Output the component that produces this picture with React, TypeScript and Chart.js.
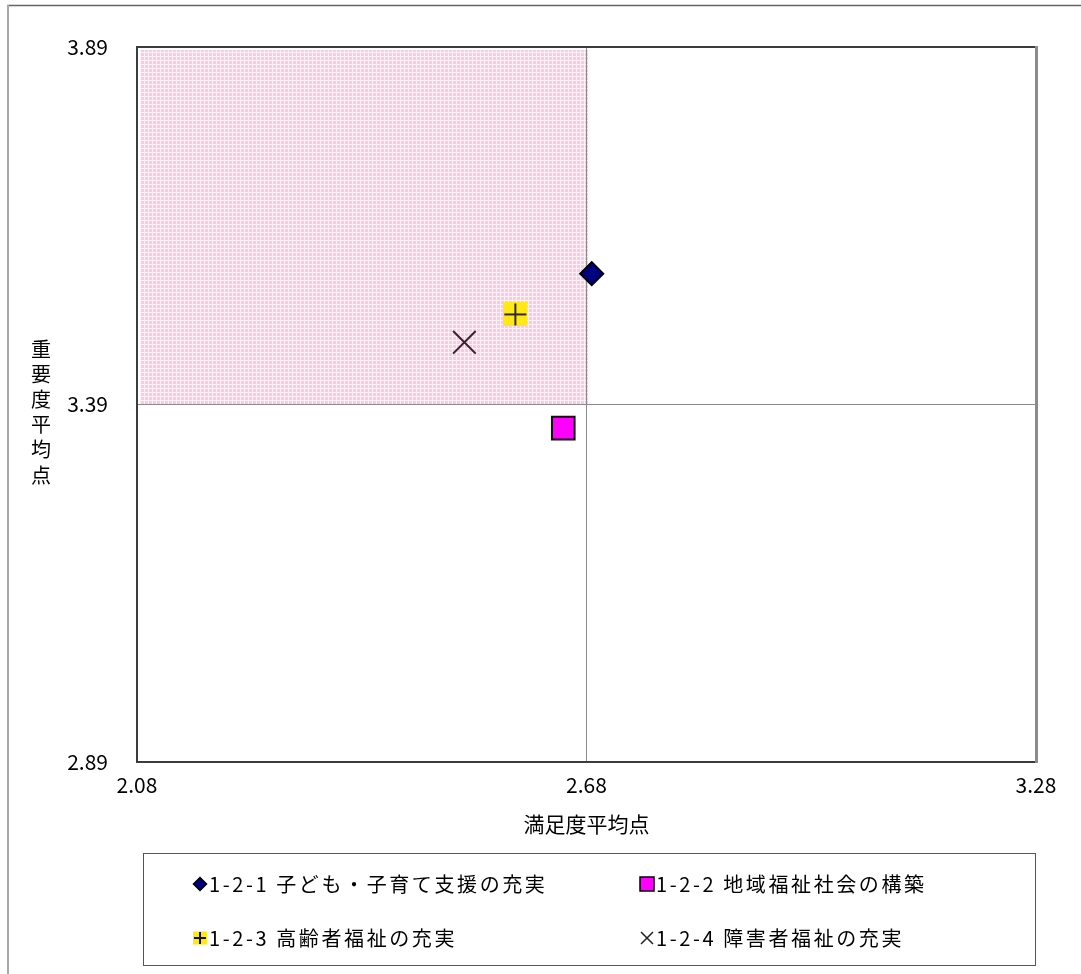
import React, { useEffect, useRef } from 'react';
import { Chart, registerables } from 'chart.js';

Chart.register(...registerables);

// ---- data ----
const seriesLabels = [
  '1-2-1 子ども・子育て支援の充実',
  '1-2-2 地域福祉社会の構築',
  '1-2-3 高齢者福祉の充実',
  '1-2-4 障害者福祉の充実',
];
const satisfaction = [2.687, 2.649, 2.585, 2.517];
const importance = [3.573, 3.357, 3.516, 3.477];
const xTicks = [2.08, 2.68, 3.28];
const yTicks = [2.89, 3.39, 3.89];
const xMid = 2.68;
const yMid = 3.39;
const xTitle = '満足度平均点';
const yTitle = '重要度平均点';

const FONT = '"Noto Sans CJK JP", "Noto Sans", sans-serif';

function makePlusImage(size: number, line: number) {
  const c = document.createElement('canvas');
  c.width = size;
  c.height = size;
  const g = c.getContext('2d')!;
  g.fillStyle = '#ffe816';
  g.fillRect(0, 0, size, size);
  g.strokeStyle = '#2e2a2a';
  g.lineWidth = line;
  const m = size / 2;
  g.beginPath();
  g.moveTo(1, m);
  g.lineTo(size - 1, m);
  g.moveTo(m, 1);
  g.lineTo(m, size - 1);
  g.stroke();
  return c;
}

function makePinkPattern(ctx: CanvasRenderingContext2D) {
  const c = document.createElement('canvas');
  c.width = 4;
  c.height = 4;
  const g = c.getContext('2d')!;
  g.fillStyle = '#fcc9e3';
  g.fillRect(0, 0, 4, 4);
  g.fillStyle = '#fff0f7';
  g.fillRect(0, 0, 4, 1);
  g.fillRect(0, 0, 1, 4);
  return ctx.createPattern(c, 'repeat');
}

const quadrantPlugin = {
  id: 'quadrant',
  beforeDraw(chart: any) {
    const { ctx, scales } = chart;
    const x = scales.x;
    const y = scales.y;
    const pat = makePinkPattern(ctx);
    ctx.save();
    ctx.fillStyle = pat || '#fad6e8';
    const x0 = x.getPixelForValue(xTicks[0]) + 3;
    const x1 = x.getPixelForValue(xMid) + 2;
    const y0 = y.getPixelForValue(yTicks[yTicks.length - 1]) + 3;
    const y1 = y.getPixelForValue(yMid);
    ctx.fillRect(x0, y0, x1 - x0, y1 - y0);

    // outer chart frame
    ctx.strokeStyle = '#666';
    ctx.lineWidth = 1.5;
    ctx.beginPath();
    ctx.moveTo(7, 5.5);
    ctx.lineTo(chart.width, 5.5);
    ctx.stroke();
    ctx.strokeStyle = '#a8a8a8';
    ctx.lineWidth = 2;
    ctx.beginPath();
    ctx.moveTo(8, 5);
    ctx.lineTo(8, chart.height);
    ctx.stroke();
    ctx.restore();
  },
  beforeDatasetsDraw(chart: any) {
    const { ctx, chartArea: a } = chart;
    ctx.save();
    ctx.lineWidth = 2;
    ctx.strokeStyle = '#3c3c3c';
    ctx.beginPath();
    ctx.moveTo(a.right, a.top);
    ctx.lineTo(a.left, a.top);
    ctx.lineTo(a.left, a.bottom);
    ctx.lineTo(a.right, a.bottom);
    ctx.stroke();
    ctx.strokeStyle = '#8c8c8c';
    ctx.lineWidth = 3;
    ctx.beginPath();
    ctx.moveTo(a.right + 0.5, a.top - 1);
    ctx.lineTo(a.right + 0.5, a.bottom + 1);
    ctx.stroke();
    ctx.restore();
  },
  afterDraw(chart: any) {
    const { ctx } = chart;
    ctx.save();
    // y-axis title, stacked vertically
    ctx.fillStyle = '#000';
    ctx.font = `20px ${FONT}`;
    ctx.textAlign = 'center';
    ctx.textBaseline = 'middle';
    Array.from(yTitle).forEach((ch, i) => {
      ctx.fillText(ch, 41, 349 + i * 25.2);
    });

    // legend box
    ctx.strokeStyle = '#555';
    ctx.lineWidth = 1;
    ctx.strokeRect(143.5, 853.5, 892, 112);

    const cols = [200, 647];
    const rows = [884, 938];
    ctx.font = `20px ${FONT}`;
    (ctx as any).letterSpacing = '2.6px';
    ctx.textAlign = 'left';
    ctx.textBaseline = 'middle';
    seriesLabels.forEach((lab, i) => {
      const cx = cols[i % 2];
      const cy = rows[Math.floor(i / 2)];
      ctx.save();
      if (i === 0) {
        ctx.fillStyle = '#000080';
        ctx.strokeStyle = '#000';
        ctx.lineWidth = 1.5;
        ctx.beginPath();
        ctx.moveTo(cx - 6.5, cy);
        ctx.lineTo(cx, cy - 6.5);
        ctx.lineTo(cx + 6.5, cy);
        ctx.lineTo(cx, cy + 6.5);
        ctx.closePath();
        ctx.fill();
        ctx.stroke();
      } else if (i === 1) {
        ctx.fillStyle = '#ff00ff';
        ctx.strokeStyle = '#000';
        ctx.lineWidth = 1.5;
        ctx.fillRect(cx - 7, cy - 7, 14, 14);
        ctx.strokeRect(cx - 7, cy - 7, 14, 14);
      } else if (i === 2) {
        ctx.fillStyle = '#ffe816';
        ctx.fillRect(cx - 7, cy - 6.5, 14, 13);
        ctx.strokeStyle = '#111';
        ctx.lineWidth = 2;
        ctx.beginPath();
        ctx.moveTo(cx - 6, cy);
        ctx.lineTo(cx + 6, cy);
        ctx.moveTo(cx, cy - 6);
        ctx.lineTo(cx, cy + 6);
        ctx.stroke();
      } else {
        ctx.strokeStyle = '#222';
        ctx.lineWidth = 1.5;
        ctx.beginPath();
        ctx.moveTo(cx - 6, cy - 6);
        ctx.lineTo(cx + 6, cy + 6);
        ctx.moveTo(cx + 6, cy - 6);
        ctx.lineTo(cx - 6, cy + 6);
        ctx.stroke();
      }
      ctx.restore();
      ctx.fillStyle = '#000';
      ctx.fillText(lab, cx + 9, cy);
    });
    (ctx as any).letterSpacing = '0px';
    ctx.restore();
  },
};

export default function App() {
  const ref = useRef<HTMLCanvasElement | null>(null);

  useEffect(() => {
    document.body.style.margin = '0';
    document.body.style.overflow = 'hidden';
    const canvas = ref.current!;
    const plusImg = makePlusImage(24, 2);

    const chart = new Chart(canvas, {
      type: 'scatter',
      data: {
        datasets: [
          {
            label: seriesLabels[0],
            data: [{ x: satisfaction[0], y: importance[0] }],
            pointStyle: 'rectRot',
            pointRadius: 11.5,
            backgroundColor: '#000080',
            borderColor: '#000',
            borderWidth: 2,
          },
          {
            label: seriesLabels[1],
            data: [{ x: satisfaction[1], y: importance[1] }],
            pointStyle: 'rect',
            pointRadius: 16,
            backgroundColor: '#ff00ff',
            borderColor: '#111',
            borderWidth: 2,
          },
          {
            label: seriesLabels[2],
            data: [{ x: satisfaction[2], y: importance[2] }],
            pointStyle: plusImg as any,
            pointRadius: 12,
            backgroundColor: '#ffe816',
            borderColor: '#2e2a2a',
          },
          {
            label: seriesLabels[3],
            data: [{ x: satisfaction[3], y: importance[3] }],
            pointStyle: 'crossRot',
            pointRadius: 16,
            backgroundColor: '#3a2030',
            borderColor: '#3a2030',
            borderWidth: 2,
          },
        ],
      },
      options: {
        responsive: false,
        animation: false,
        events: [],
        layout: { padding: { top: 47, right: 45, bottom: 136, left: 0 } },
        plugins: {
          legend: { display: false },
          tooltip: { enabled: false },
        },
        scales: {
          x: {
            type: 'linear',
            min: xTicks[0],
            max: xTicks[xTicks.length - 1],
            afterBuildTicks: (s: any) => {
              s.ticks = xTicks.map((v) => ({ value: v }));
            },
            afterFit: (s: any) => {
              s.height = 76;
            },
            ticks: {
              callback: (v: any) => Number(v).toFixed(2),
              font: { family: FONT, size: 21 },
              color: '#000',
              padding: 10,
              maxRotation: 0,
              autoSkip: false,
            },
            grid: {
              drawTicks: false,
              color: (c: any) => (c.tick && Math.abs(c.tick.value - xMid) < 1e-6 ? '#8a8a8a' : 'rgba(0,0,0,0)'),
              lineWidth: 1,
            },
            border: { display: false },
            title: {
              display: true,
              text: xTitle,
              font: { family: FONT, size: 21 },
              color: '#000',
              padding: { top: 0, bottom: 1 },
            },
          },
          y: {
            type: 'linear',
            min: yTicks[0],
            max: yTicks[yTicks.length - 1],
            afterBuildTicks: (s: any) => {
              s.ticks = yTicks.map((v) => ({ value: v }));
            },
            afterFit: (s: any) => {
              s.width = 137;
            },
            ticks: {
              callback: (v: any) => Number(v).toFixed(2),
              font: { family: FONT, size: 21 },
              color: '#000',
              padding: 29,
              autoSkip: false,
            },
            grid: {
              drawTicks: false,
              color: (c: any) => (c.tick && Math.abs(c.tick.value - yMid) < 1e-6 ? '#8a8a8a' : 'rgba(0,0,0,0)'),
              lineWidth: 1,
            },
            border: { display: false },
            title: { display: false },
          },
        },
      },
      plugins: [quadrantPlugin],
    });

    return () => {
      chart.destroy();
    };
  }, []);

  return <canvas ref={ref} width={1081} height={974} style={{ display: 'block', width: 1081, height: 974 }} />;
}
